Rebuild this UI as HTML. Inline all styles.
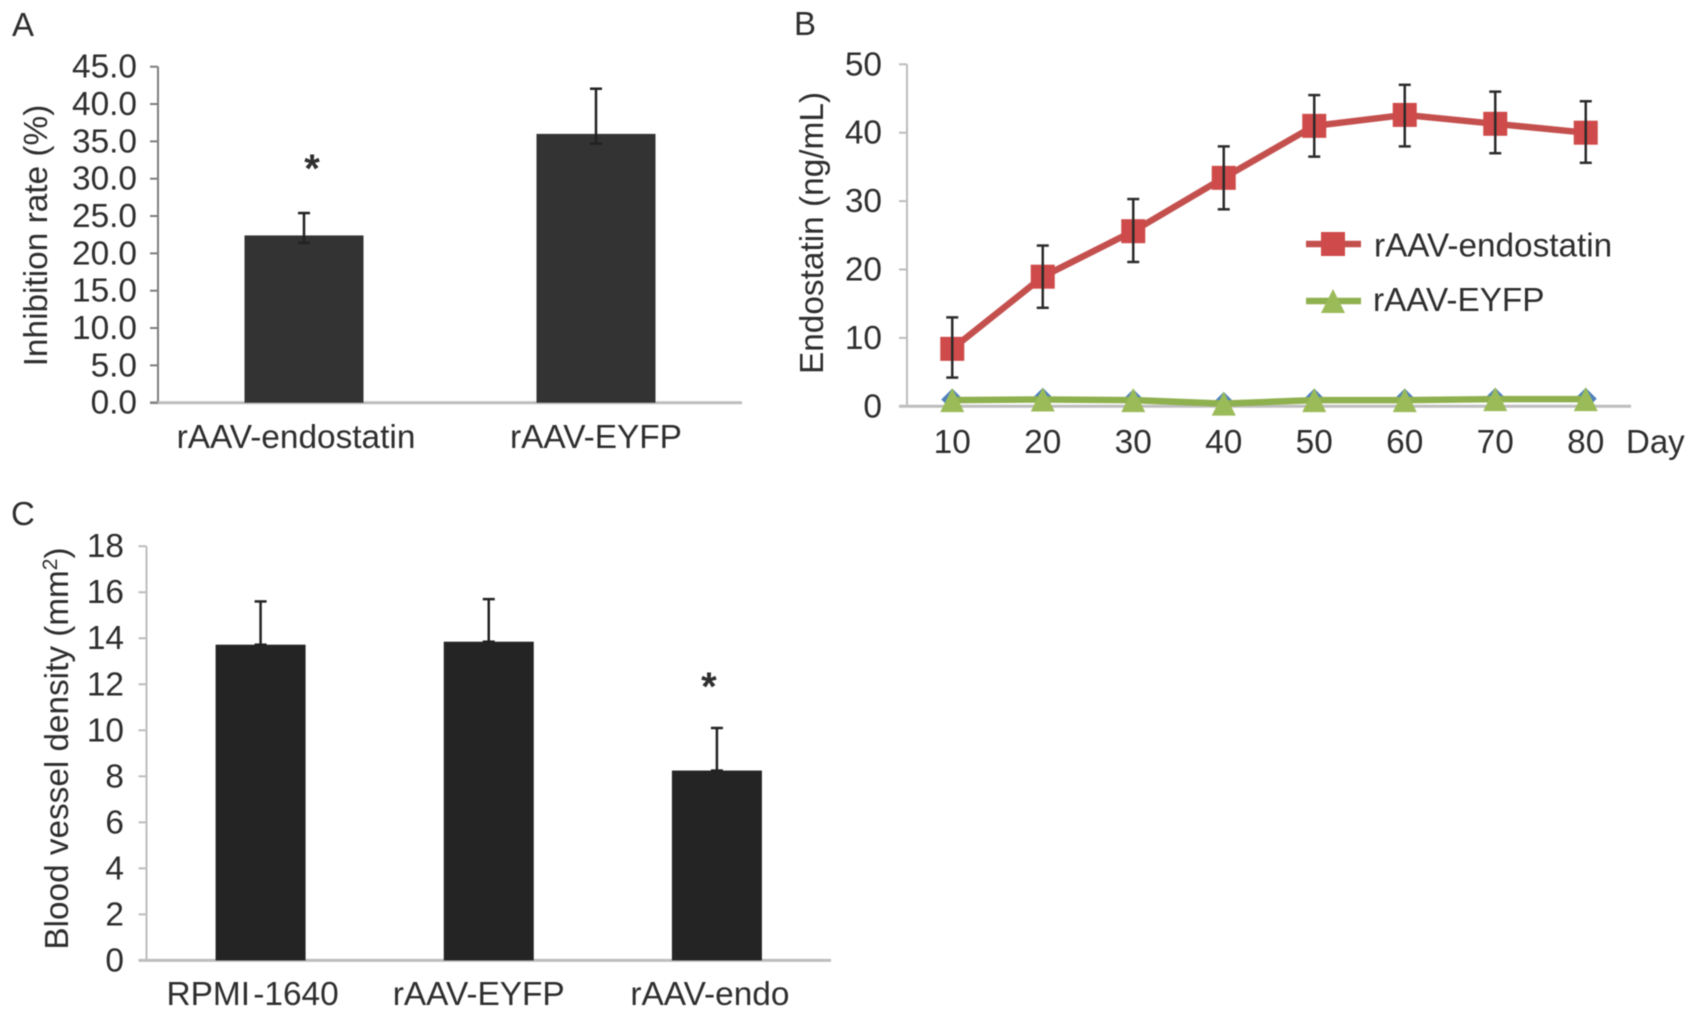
<!DOCTYPE html>
<html lang="en">
<head>
<meta charset="utf-8">
<title>rAAV-endostatin figure</title>
<style>
html,body{margin:0;padding:0;background:#fff;width:1696px;height:1018px;overflow:hidden}
svg{display:block;filter:blur(.6px)}
text{font-family:"Liberation Sans",sans-serif;fill:#2e2e2e}
</style>
</head>
<body>
<svg id="fig" width="1696" height="1018" viewBox="0 0 1696 1018" xmlns="http://www.w3.org/2000/svg">
  <rect width="1696" height="1018" fill="#fff"/>
  <text x="12" y="36" font-size="33">A</text>
  <text x="794" y="35" font-size="33">B</text>
  <text x="11" y="525" font-size="33">C</text>
  <g id="panel-a">
    <text transform="translate(47 235.5) rotate(-90)" text-anchor="middle" font-size="33.4">Inhibition rate (%)</text>
  </g>
  <g id="panel-b">
    <text transform="translate(823 233) rotate(-90)" text-anchor="middle" font-size="33.4">Endostatin (ng/mL)</text>
    <text x="1626" y="453" font-size="33">Day</text>
  </g>
  <g id="panel-c">
    <text transform="translate(68 748.5) rotate(-90)" text-anchor="middle" font-size="33.3">Blood vessel density (mm<tspan dy="-11" font-size="21">2</tspan><tspan dy="11">)</tspan></text>
  </g>
</svg>
<script>
// Panel A data
const aCategories = ['rAAV-endostatin', 'rAAV-EYFP'];
const aValues = [22.4, 36.0];
const aErrUp = [3.0, 6.05];
const aErrDown = [1.0, 1.3];
const aTicks = ['0.0', '5.0', '10.0', '15.0', '20.0', '25.0', '30.0', '35.0', '40.0', '45.0'];
const aStars = ['*', ''];

// Panel B data
const bDays = ['10', '20', '30', '40', '50', '60', '70', '80'];
const bEndostatin = [8.4, 18.95, 25.6, 33.4, 41.0, 42.6, 41.3, 40.0];
const bEndoErrUp = [4.6, 4.55, 4.7, 4.6, 4.5, 4.4, 4.7, 4.6];
const bEndoErrDown = [4.2, 4.55, 4.5, 4.6, 4.5, 4.6, 4.3, 4.4];
const bEyfp = [0.9, 1.0, 0.9, 0.4, 0.9, 0.9, 1.05, 1.05];
const bControl = [1.0, 1.1, 0.9, 0.5, 1.0, 1.0, 1.1, 1.1];
const bTicks = ['0', '10', '20', '30', '40', '50'];

// Panel C data
const cCategories = ['RPMI -1640', 'rAAV-EYFP', 'rAAV-endo'];
const cValues = [13.72, 13.85, 8.25];
const cErrUp = [1.88, 1.85, 1.85];
const cTicks = ['0', '2', '4', '6', '8', '10', '12', '14', '16', '18'];
const cStars = ['', '', '*'];

const NS = 'http://www.w3.org/2000/svg';
function make(tag, attrs, parent) {
  const el = document.createElementNS(NS, tag);
  for (const k in attrs) el.setAttribute(k, attrs[k]);
  parent.appendChild(el);
  return el;
}

function drawAxes(g, o, ticks, labels, labelNudge) {
  const axisY = make('line', {x1: o.x0, x2: o.x0, y1: o.y(Number(ticks[ticks.length - 1])), y2: o.y(0), stroke: o.axisColor, 'stroke-width': 2}, g);
  
  
  const axisX = make('line', {x1: o.x0 - 8, x2: o.x1, y1: o.y(0), y2: o.y(0), stroke: '#bdbdbd', 'stroke-width': 3}, g);
  
  
  ticks.forEach(function (t) {
    const tv = Number(t);
    const tick = make('line', {x1: o.x0 - 8, x2: o.x0, y1: o.y(tv), y2: o.y(tv), stroke: o.axisColor, 'stroke-width': 2}, g);
    
    
    const tl = make('text', {x: o.labelRight, y: o.y(tv) + 11, 'text-anchor': 'end', 'font-size': o.tickSize}, g);
    
    
    tl.textContent = t;
  });
  labels.forEach(function (c, i) {
    const cl = make('text', {x: o.x(i) + labelNudge[i], y: o.catY, 'text-anchor': 'middle', 'font-size': o.catSize, 'word-spacing': o.catWordSpacing}, g);
    
    
    cl.textContent = c;
  });
}

function drawWhisker(g, cx, yTop, yBottom, color) {
  const stem = make('line', {x1: cx, x2: cx, y1: yTop, y2: yBottom, stroke: color, 'stroke-width': 2.5}, g);
  
  
  const capTop = make('line', {x1: cx - 6, x2: cx + 6, y1: yTop, y2: yTop, stroke: color, 'stroke-width': 2.5}, g);
  
  
  const capBottom = make('line', {x1: cx - 6, x2: cx + 6, y1: yBottom, y2: yBottom, stroke: color, 'stroke-width': 2.5}, g);
  
  
}

function drawBars(g, o, values, up, down, stars) {
  values.forEach(function (v, i) {
    const cx = o.x(i);
    const bar = make('rect', {x: cx - o.barW / 2, y: o.y(v), width: o.barW, height: o.y(0) - o.y(v), fill: o.barColor}, g);
    
    
    drawWhisker(g, cx, o.y(v + up[i]), o.y(v - down[i]), '#222');
    if (stars[i]) {
      const s = make('text', {x: cx + o.starDx, y: o.y(v + up[i]) - o.starGap, 'text-anchor': 'middle', 'font-size': 40, 'font-weight': 'bold'}, g);
      
      
      s.textContent = stars[i];
    }
  });
}

// Panel A
(function () {
  const g = document.getElementById('panel-a');
  const o = {
    x0: 158, x1: 742, labelRight: 137, tickSize: 33.4, catSize: 33.4, catY: 448, catWordSpacing: 0,
    axisColor: '#7d7d7d', barColor: '#333', barW: 119, starDx: 8, starGap: 31,
    x: function (i) { return 158 + (i + 0.5) * (584 / aCategories.length); },
    y: function (v) { return 402.7 - v * (336 / 45); }
  };
  drawAxes(g, o, aTicks, aCategories, [-8, 0]);
  drawBars(g, o, aValues, aErrUp, aErrDown, aStars);
})();

// Panel C
(function () {
  const g = document.getElementById('panel-c');
  const o = {
    x0: 146.5, x1: 831, labelRight: 124, tickSize: 33.4, catSize: 33.4, catY: 1005, catWordSpacing: -6,
    axisColor: '#bdbdbd', barColor: '#242424', barW: 90, starDx: -8, starGap: 28,
    x: function (i) { return 146.5 + (i + 0.5) * (684.5 / cCategories.length); },
    y: function (v) { return 960.4 - v * (414.2 / 18); }
  };
  const zeroDown = cValues.map(function () { return 0; });
  drawAxes(g, o, cTicks, cCategories, [-8, -10, -7]);
  drawBars(g, o, cValues, cErrUp, zeroDown, cStars);
})();

// Panel B
(function () {
  const g = document.getElementById('panel-b');
  const step = (1631 - 907) / bDays.length;
  const o = {
    x0: 907, x1: 1631, labelRight: 882, tickSize: 33.4, catSize: 33.4, catY: 453, catWordSpacing: 0,
    axisColor: '#bdbdbd',
    x: function (i) { return 907 + (i + 0.5) * step; },
    y: function (v) { return 406.3 - v * (342 / 50); }
  };
  drawAxes(g, o, bTicks, bDays, bDays.map(function () { return 0; }));

  function pts(arr) {
    return arr.map(function (v, i) { return o.x(i) + ',' + o.y(v); }).join(' ');
  }
  function diamond(parent, cx, cy, fill) {
    const m = make('polygon', {points: cx + ',' + (cy - 11) + ' ' + (cx + 11) + ',' + cy + ' ' + cx + ',' + (cy + 11) + ' ' + (cx - 11) + ',' + cy, fill: fill}, parent);
    
    
  }
  function triangle(parent, cx, cy) {
    const m = make('polygon', {points: cx + ',' + (cy - 12) + ' ' + (cx + 12) + ',' + (cy + 12) + ' ' + (cx - 12) + ',' + (cy + 12), fill: '#9bbb59'}, parent);
    
    
  }
  function square(parent, cx, cy) {
    const m = make('rect', {x: cx - 12, y: cy - 12, width: 24, height: 24, fill: '#cf4a4a'}, parent);
    
    
  }

  const controlLine = make('polyline', {points: pts(bControl), fill: 'none', stroke: '#4f81bd', 'stroke-width': 4}, g);
  
  
  bControl.forEach(function (v, i) { diamond(g, o.x(i), o.y(v), '#4f81bd'); });

  const eyfpLine = make('polyline', {points: pts(bEyfp), fill: 'none', stroke: '#8fb04f', 'stroke-width': 6.5}, g);
  
  
  bEyfp.forEach(function (v, i) { triangle(g, o.x(i), o.y(v)); });

  const endoLine = make('polyline', {points: pts(bEndostatin), fill: 'none', stroke: '#c4504e', 'stroke-width': 6.5}, g);
  
  
  bEndostatin.forEach(function (v, i) {
    square(g, o.x(i), o.y(v));
    drawWhisker(g, o.x(i), o.y(v + bEndoErrUp[i]), o.y(v - bEndoErrDown[i]), '#2b2b2b');
  });

  // Legend
  const leg = make('g', {}, g);
  
  
  const l1 = make('line', {x1: 1306, x2: 1361, y1: 244, y2: 244, stroke: '#c4504e', 'stroke-width': 6.5}, leg);
  
  
  square(leg, 1333, 244);
  const t1 = make('text', {x: 1374, y: 256.5, 'font-size': 33.3}, leg);
  
  
  t1.textContent = 'rAAV-endostatin';
  const l2 = make('line', {x1: 1306, x2: 1361, y1: 301, y2: 301, stroke: '#8fb04f', 'stroke-width': 6.5}, leg);
  
  
  triangle(leg, 1333, 301);
  const t2 = make('text', {x: 1373, y: 311, 'font-size': 33.3}, leg);
  
  
  t2.textContent = 'rAAV-EYFP';
})();
</script>
</body>
</html>
